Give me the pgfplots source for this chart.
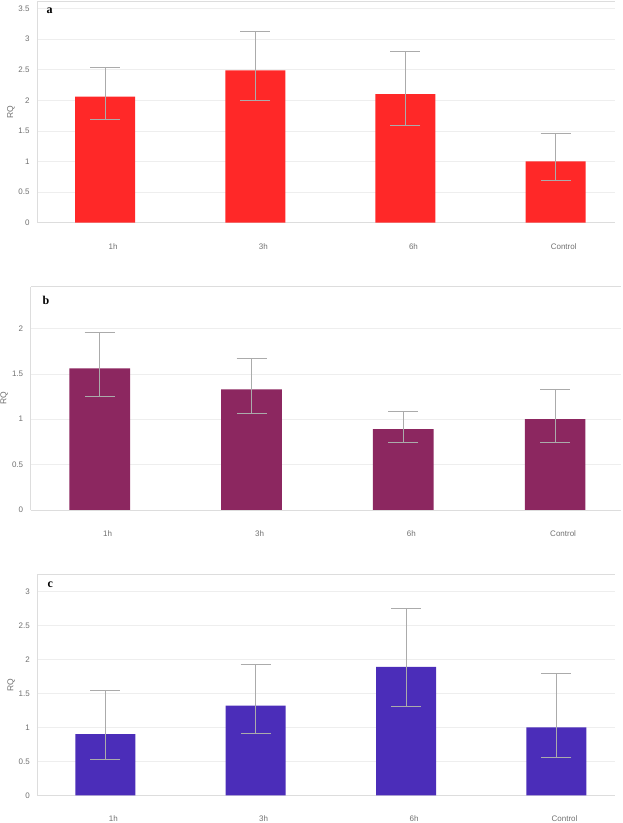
\documentclass[border=0pt]{standalone}
\usepackage{pgfplots}
\pgfplotsset{compat=1.18}
\usepackage{fontspec}
\setmainfont{Liberation Sans}
\newfontfamily\serifbold{Liberation Serif}
\definecolor{barA}{HTML}{FF2828}
\definecolor{barB}{HTML}{8C2760}
\definecolor{barC}{HTML}{4B2DB9}
\definecolor{axisgray}{HTML}{DDDDDD}
\definecolor{gridgray}{HTML}{EEEEEE}
\definecolor{labelgray}{HTML}{707070}
\definecolor{errgray}{HTML}{ABABAB}
\pgfplotsset{rq/.style={
  scale only axis, ybar, ymin=0,
  xtick={0,1,2,3}, xticklabels={1h,3h,6h,Control},
  separate axis lines, axis x line*=box, axis y line*=left,
  axis line style={draw=axisgray, line width=0.8pt},
  ymajorgrids, grid style={draw=gridgray, line width=0.6pt},
  major tick length=0pt,
  /pgf/number format/assume math mode=true,
  tick label style={font=\fontsize{8}{9}\selectfont, text=labelgray},
  xticklabel style={yshift=-17pt, xshift=8pt},
  yticklabel style={xshift=-4pt},
  ylabel={RQ},
  every axis y label/.style={at={(axis description cs:-0.045,0.5)}, rotate=90, anchor=center, font=\fontsize{8.5}{10}\selectfont, text=labelgray},
  error bars/y dir=both, error bars/y explicit,
  error bars/error mark options={draw=errgray, line width=1pt, mark size=15pt, rotate=90},
  error bars/error bar style={draw=errgray, line width=1pt},
}}
\pgfplotstableread{
x y ep em
0 2.06 0.47 0.38
1 2.49 0.63 0.50
2 2.10 0.69 0.515
3 1.00 0.45 0.31
}\dataA
\pgfplotstableread{
x y ep em
0 1.56 0.39 0.31
1 1.33 0.34 0.266
2 0.89 0.19 0.15
3 1.00 0.33 0.255
}\dataB
\pgfplotstableread{
x y ep em
0 0.90 0.64 0.38
1 1.32 0.60 0.41
2 1.89 0.86 0.59
3 1.00 0.79 0.44
}\dataC
\begin{document}
\begin{tikzpicture}
\useasboundingbox (0,0) rectangle (622pt,823pt);
% panel a
\begin{axis}[rq, at={(37pt,600.3pt)}, anchor=south west,
  width=578pt, height=221pt, bar width=60pt,
  xmin=-0.453, xmax=3.395, ymax=3.61, ytick={0,0.5,1,1.5,2,2.5,3,3.5}]
\addplot[fill=barA, draw=none] table[x=x, y=y, y error plus=ep, y error minus=em] {\dataA};
\node[anchor=base west, font=\serifbold\bfseries\fontsize{12}{12}\selectfont] at (rel axis cs:0.0104,0.9475) {a};
\end{axis}
% panel b
\begin{axis}[rq, at={(30.7pt,313pt)}, anchor=south west,
  width=590.3pt, height=223.3pt, bar width=60.7pt,
  xmin=-0.4545, xmax=3.434, ymax=2.46, ytick={0,0.5,1,1.5,2}]
\addplot[fill=barB, draw=none] table[x=x, y=y, y error plus=ep, y error minus=em] {\dataB};
\node[anchor=base west, font=\serifbold\bfseries\fontsize{12}{12}\selectfont] at (rel axis cs:0.014,0.9225) {b};
\end{axis}
% panel c
\begin{axis}[rq, at={(37.3pt,27.7pt)}, anchor=south west,
  width=577.7pt, height=221pt, bar width=60pt,
  xmin=-0.452, xmax=3.389, ymax=3.25, ytick={0,0.5,1,1.5,2,2.5,3}]
\addplot[fill=barC, draw=none] table[x=x, y=y, y error plus=ep, y error minus=em] {\dataC};
\node[anchor=base west, font=\serifbold\bfseries\fontsize{12}{12}\selectfont] at (rel axis cs:0.0116,0.938) {c};
\end{axis}
\end{tikzpicture}
\end{document}
